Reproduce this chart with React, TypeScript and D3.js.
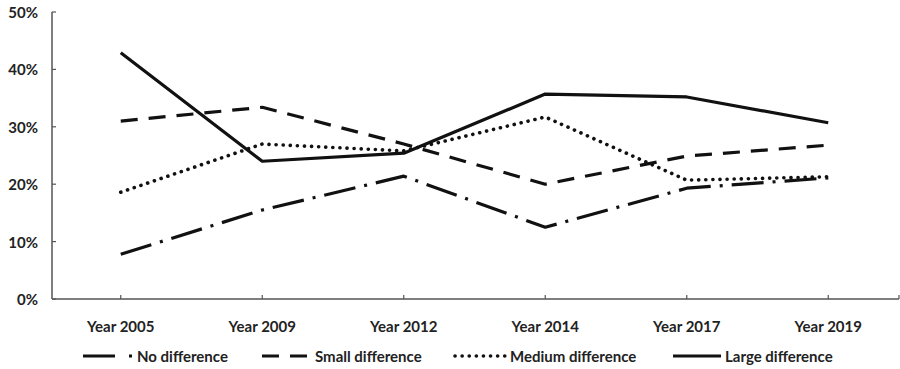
import React from "react";
import * as d3 from "d3";

const categories = ["Year 2005", "Year 2009", "Year 2012", "Year 2014", "Year 2017", "Year 2019"];
const seriesNames = ["No difference", "Small difference", "Medium difference", "Large difference"];
const noDifference = [7.8, 15.5, 21.4, 12.5, 19.3, 21.1];
const smallDifference = [31.0, 33.4, 27.0, 20.0, 24.9, 26.8];
const mediumDifference = [18.6, 27.0, 25.8, 31.7, 20.7, 21.3];
const largeDifference = [42.9, 24.0, 25.4, 35.7, 35.2, 30.7];
const yTicks = [0, 10, 20, 30, 40, 50];

const W = 900;
const H = 369;
const M = { left: 52, right: 1, top: 12, bottom: 70 };
const FONT = "Lato, 'Open Sans', sans-serif";

const styles = [
  { dash: "32 9 3 9", cap: "butt", width: 3.2 },
  { dash: "17 11", cap: "butt", width: 3.2 },
  { dash: "0.1 7", cap: "round", width: 3.6 },
  { dash: null, cap: "butt", width: 3.2 },
];

export default function App() {
  const x = d3
    .scaleBand<string>()
    .domain(categories)
    .range([50, W - M.right]);
  const y = d3.scaleLinear().domain([0, 50]).range([H - M.bottom, M.top]);
  const all = [noDifference, smallDifference, mediumDifference, largeDifference];
  const line = d3
    .line<number>()
    .x((_, i) => (x(categories[i]) as number) + x.bandwidth() / 2)
    .y((d) => y(d));
  const y0 = y(0);

  const legendX = [83, 262, 455, 673];
  const legendTextX = [137, 315, 510, 725];
  const legendY = 356;

  return (
    <svg width={W} height={H} style={{ position: "absolute", left: 0, top: 0, background: "#fff" }}>
      {/* axes */}
      <line x1={M.left} x2={M.left} y1={M.top} y2={y0} stroke="#555" strokeWidth={1.5} />
      <line x1={M.left} x2={W - M.right} y1={y0} y2={y0} stroke="#555" strokeWidth={1.5} />
      {yTicks.map((t) => (
        <g key={t}>
          <line x1={M.left} x2={M.left + 4} y1={y(t)} y2={y(t)} stroke="#555" strokeWidth={1.2} />
          <text
            x={38}
            y={y(t)}
            textAnchor="end"
            dominantBaseline="central"
            fontFamily={FONT}
            fontWeight={700}
            fontSize={15}
            fill="#222"
          >
            {t}%
          </text>
        </g>
      ))}
      {categories.map((c) => {
        const cx = (x(c) as number) + x.bandwidth() / 2;
        return (
          <g key={c}>
            <line x1={cx} x2={cx} y1={y0} y2={y0 - 4} stroke="#555" strokeWidth={1.2} />
            <text
              x={cx}
              y={326}
              textAnchor="middle"
              dominantBaseline="central"
              fontFamily={FONT}
              fontWeight={700}
              fontSize={15}
              fill="#222"
            >
              {c}
            </text>
          </g>
        );
      })}
      <line x1={W - M.right} x2={W - M.right} y1={y0} y2={y0 - 4} stroke="#555" strokeWidth={1.2} />
      {/* series */}
      {all.map((vals, i) => (
        <path
          key={seriesNames[i]}
          d={line(vals) || ""}
          fill="none"
          stroke="#111"
          strokeWidth={styles[i].width}
          strokeDasharray={styles[i].dash || undefined}
          strokeLinecap={styles[i].cap as any}
          strokeLinejoin="round"
        />
      ))}
      {/* legend */}
      {seriesNames.map((n, i) => {
        const x1 = legendX[i];
        const x2 = legendTextX[i] - 4;
        return (
          <g key={n}>
            <line
              x1={x1}
              x2={x2}
              y1={legendY}
              y2={legendY}
              stroke="#111"
              strokeWidth={styles[i].width}
              strokeDasharray={i === 0 ? "32 14 3 20" : styles[i].dash || undefined}
              strokeLinecap={styles[i].cap as any}
            />
            <text
              x={legendTextX[i]}
              y={legendY}
              dominantBaseline="central"
              fontFamily={FONT}
              fontWeight={700}
              fontSize={15}
              fill="#222"
            >
              {n}
            </text>
          </g>
        );
      })}
    </svg>
  );
}
